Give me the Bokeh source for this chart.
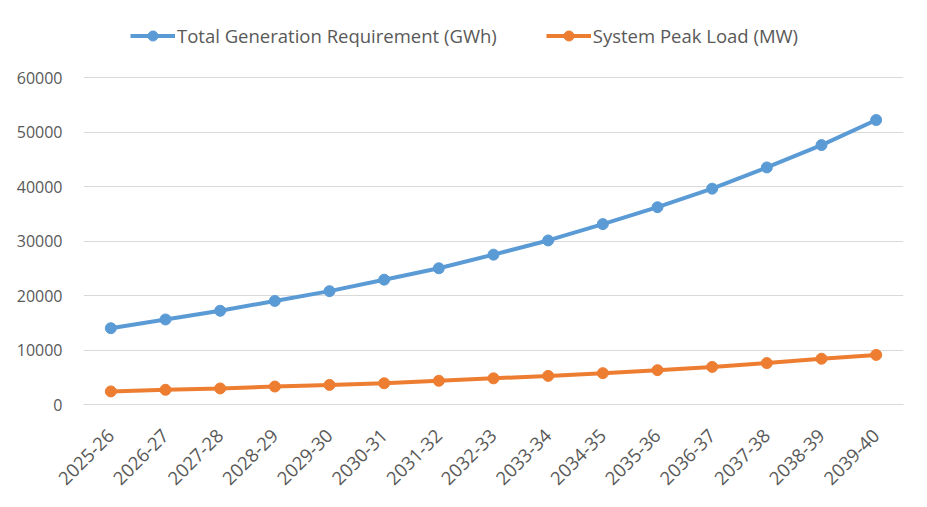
import math
from bokeh.plotting import figure
from bokeh.models import FactorRange, Range1d, FixedTicker, Legend, LegendItem
from bokeh.embed import file_html
from bokeh.resources import INLINE

years = ["2025-26", "2026-27", "2027-28", "2028-29", "2029-30", "2030-31", "2031-32",
         "2032-33", "2033-34", "2034-35", "2035-36", "2036-37", "2037-38", "2038-39", "2039-40"]
gen_gwh = [14000, 15600, 17200, 19000, 20800, 22900, 25000, 27500,
           30100, 33100, 36200, 39600, 43500, 47600, 52200]
peak_mw = [2400, 2700, 2950, 3300, 3600, 3900, 4350, 4800,
           5250, 5750, 6300, 6900, 7600, 8400, 9100]
y_ticks = [0, 10000, 20000, 30000, 40000, 50000, 60000]

BLUE = "#5b9bd5"
ORANGE = "#ed7d31"
TXT = "#595959"
GRID = "#d9d9d9"
FONT = "Open Sans"

# layout: value axis spans 60000 over 327 px; frame extended upward to host the legend
FIG_W, FIG_H = 920, 500
TOP, BOTTOM = 5, 96
AXIS_PX = 327
frame_h = FIG_H - TOP - BOTTOM
y_end = y_ticks[-1] * frame_h / AXIS_PX

p = figure(width=FIG_W, height=FIG_H, x_range=FactorRange(*years), y_range=Range1d(0, y_end),
           output_backend="svg", toolbar_location=None,
           min_border_left=83, min_border_right=17, min_border_top=TOP, min_border_bottom=BOTTOM)
p.outline_line_color = None

r1l = p.line(years, gen_gwh, line_color=BLUE, line_width=4)
r1s = p.scatter(years, gen_gwh, size=11, fill_color=BLUE, line_color=BLUE)
r2l = p.line(years, peak_mw, line_color=ORANGE, line_width=4)
r2s = p.scatter(years, peak_mw, size=11, fill_color=ORANGE, line_color=ORANGE)

p.yaxis.ticker = FixedTicker(ticks=y_ticks)
p.yaxis.axis_line_color = None
p.yaxis.major_tick_line_color = None
p.yaxis.minor_tick_line_color = None
p.yaxis.major_label_text_font = FONT
p.yaxis.major_label_text_font_size = "16px"
p.yaxis.major_label_text_color = TXT
p.yaxis.major_label_standoff = 15

p.xaxis.axis_line_color = GRID
p.xaxis.major_tick_line_color = None
p.xaxis.minor_tick_line_color = None
p.xaxis.major_label_orientation = math.pi / 4
p.xaxis.major_label_text_font = FONT
p.xaxis.major_label_text_font_size = "18.5px"
p.xaxis.major_label_text_color = TXT
p.xaxis.major_label_standoff = 22

p.xgrid.grid_line_color = None
p.ygrid.grid_line_color = GRID
p.ygrid.grid_line_width = 1

legend = Legend(items=[
    LegendItem(label="Total Generation Requirement (GWh)", renderers=[r1l, r1s]),
    LegendItem(label="System Peak Load (MW)", renderers=[r2l, r2s]),
], orientation="horizontal", location=(47, 356))
legend.label_text_font = FONT
legend.label_text_font_size = "18.5px"
legend.label_text_color = TXT
legend.border_line_color = None
legend.background_fill_alpha = 0
legend.padding = 0
legend.margin = 0
legend.glyph_width = 45
legend.glyph_height = 25
legend.label_height = 25
legend.label_standoff = 2
legend.spacing = 49
p.add_layout(legend)

html = file_html(p, INLINE)
open("out.html", "w").write(html)
